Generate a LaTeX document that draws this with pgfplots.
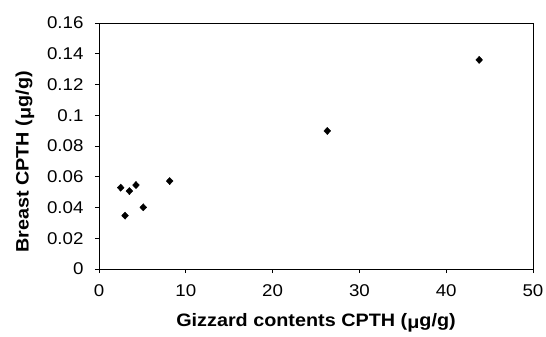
\documentclass[border=0pt]{standalone}
\usepackage{fontspec}
\setmainfont{Liberation Sans}[FakeStretch=1.1]
\usepackage{pgfplots}
\pgfplotsset{compat=1.18}
\begin{document}
\begin{tikzpicture}
\begin{axis}[
  scale only axis,
  width=434pt, height=246pt,
  xmin=0, xmax=50, ymin=0, ymax=0.16,
  xtick={0,10,...,50},
  ytick={0,0.02,...,0.16},
  yticklabels={0,0.02,0.04,0.06,0.08,0.1,0.12,0.14,0.16},
  tick align=outside,
  tick pos=left,
  major tick length=4pt,
  axis line style={line width=0.9pt},
  tick style={black, line width=0.6pt},
  /pgf/number format/assume math mode=true,
  tick label style={font=\fontsize{17}{19}\selectfont},
  yticklabel style={xshift=-8pt},
  xticklabel style={yshift=-8pt},
  xlabel={\textbf{Gizzard contents CPTH (\raisebox{-2pt}{μ}g/g)}},
  ylabel={\textbf{Breast CPTH (\raisebox{-2pt}{μ}g/g)}},
  label style={font=\fontsize{18}{20}\selectfont},
  xlabel style={yshift=-10pt},
  ylabel style={at={(ticklabel cs:0.435)}, yshift=6pt},
]
\addplot[only marks, mark=diamond*, mark size=3.6pt, mark options={xscale=1.25}, black] coordinates {
  (2.5,0.0529) (3.0,0.0347) (3.5,0.0507) (4.26,0.0546) (5.1,0.0401)
  (8.14,0.0572) (26.3,0.0898) (43.8,0.136)
};
\end{axis}
\pgfresetboundingbox
\path (current axis.south west) ++(-99pt,-68pt) coordinate (bl);
\path (current axis.north east) ++(13pt,23pt) coordinate (tr);
\path (bl) rectangle (tr);
\end{tikzpicture}
\end{document}
